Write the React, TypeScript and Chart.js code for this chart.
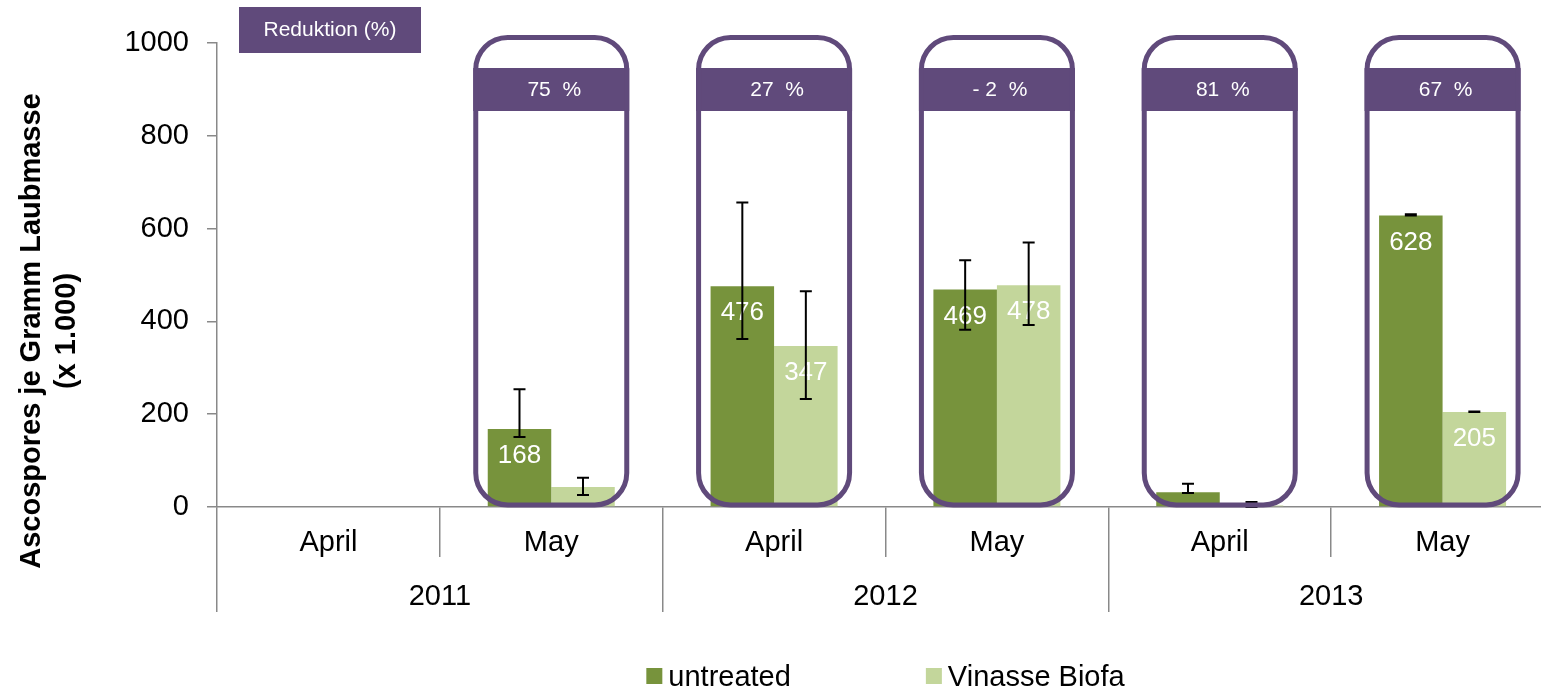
import { useEffect, useRef } from 'react';
import { Chart, registerables } from 'chart.js';

Chart.register(...registerables);

const months = ['April', 'May', 'April', 'May', 'April', 'May'];
const years = ['2011', '2012', '2013'];
const untreated = [null, 168, 476, 469, 32, 628];
const vinasse = [null, 43, 347, 478, 3, 205];
const untreatedHigh = [null, 254, 656, 532, 50, 631];
const untreatedLow = [null, 151, 362, 382, 30, 628];
const vinasseHigh = [null, 63, 465, 570, 11, 206];
const vinasseLow = [null, 26, 233, 392, 0, 205];
const reductions = [null, '75  %', '27  %', '- 2  %', '81  %', '67  %'];
const yTicks = [0, 200, 400, 600, 800, 1000];
const seriesNames = ['untreated', 'Vinasse Biofa'];
const yTitle = ['Ascospores je Gramm Laubmasse', '(x 1.000)'];

const GREEN = '#77933C';
const LIGHT = '#C3D69B';
const PURPLE = '#604A7B';
const GRAY = '#898989';
const FONT = '"Liberation Sans", Arial, sans-serif';

function roundRectPath(ctx: CanvasRenderingContext2D, l: number, t: number, r: number, b: number, rad: number) {
  ctx.beginPath();
  ctx.moveTo(l + rad, t);
  ctx.lineTo(r - rad, t);
  ctx.arcTo(r, t, r, t + rad, rad);
  ctx.lineTo(r, b - rad);
  ctx.arcTo(r, b, r - rad, b, rad);
  ctx.lineTo(l + rad, b);
  ctx.arcTo(l, b, l, b - rad, rad);
  ctx.lineTo(l, t + rad);
  ctx.arcTo(l, t, l + rad, t, rad);
  ctx.closePath();
}

const overlay = {
  id: 'overlay',
  afterDatasetsDraw(chart: any) {
    const { ctx, chartArea, scales } = chart;
    const x = scales.x;
    const y = scales.y;
    const values = [untreated, vinasse];
    // data labels
    ctx.save();
    ctx.fillStyle = '#ffffff';
    ctx.font = `26px ${FONT}`;
    ctx.textAlign = 'center';
    ctx.textBaseline = 'middle';
    values.forEach((vals, di) => {
      const meta = chart.getDatasetMeta(di);
      vals.forEach((v, i) => {
        if (v == null || v < 100) return;
        const bar = meta.data[i];
        ctx.fillText(String(v), bar.x, y.getPixelForValue(v) + 27);
      });
    });
    ctx.restore();
    // error bars
    const errs = [[untreatedHigh, untreatedLow], [vinasseHigh, vinasseLow]];
    ctx.save();
    ctx.strokeStyle = '#000';
    ctx.lineWidth = 2;
    errs.forEach(([hi, lo], di) => {
      const meta = chart.getDatasetMeta(di);
      hi.forEach((h, i) => {
        if (h == null || lo[i] == null) return;
        const cx = meta.data[i].x;
        const yh = y.getPixelForValue(h);
        const yl = y.getPixelForValue(lo[i] as number);
        ctx.beginPath();
        ctx.moveTo(cx, yh);
        ctx.lineTo(cx, yl);
        ctx.moveTo(cx - 6, yh);
        ctx.lineTo(cx + 6, yh);
        ctx.moveTo(cx - 6, yl);
        ctx.lineTo(cx + 6, yl);
        ctx.stroke();
      });
    });
    ctx.restore();
    // reduction boxes
    ctx.save();
    reductions.forEach((label, i) => {
      if (label == null) return;
      const cx = x.getPixelForValue(i);
      const l = cx - 75.5;
      const r = cx + 75.5;
      const t = chartArea.top - 5.5;
      const b = y.getPixelForValue(0) - 2;
      ctx.fillStyle = PURPLE;
      ctx.fillRect(l - 2.5, chartArea.top + 25, r - l + 5, 43);
      ctx.strokeStyle = PURPLE;
      ctx.lineWidth = 5;
      roundRectPath(ctx, l, t, r, b, 32);
      ctx.stroke();
      ctx.fillStyle = '#ffffff';
      ctx.font = `21px ${FONT}`;
      ctx.textAlign = 'center';
      ctx.textBaseline = 'middle';
      ctx.fillText(label, cx + 3, chartArea.top + 47);
    });
    ctx.restore();
  },
  afterDraw(chart: any) {
    const { ctx, chartArea } = chart;
    ctx.save();
    // Reduktion box
    ctx.fillStyle = PURPLE;
    ctx.fillRect(chartArea.left + 22, 7, 182, 46);
    ctx.fillStyle = '#ffffff';
    ctx.font = `21px ${FONT}`;
    ctx.textAlign = 'center';
    ctx.textBaseline = 'middle';
    ctx.fillText('Reduktion (%)', chartArea.left + 113, 30);
    // Y title
    ctx.save();
    ctx.translate(32, 331);
    ctx.rotate(-Math.PI / 2);
    ctx.fillStyle = '#000';
    ctx.font = `bold 29px ${FONT}`;
    ctx.textAlign = 'center';
    ctx.textBaseline = 'middle';
    yTitle.forEach((line, k) => ctx.fillText(line, 0, k * 35));
    ctx.restore();
    // legend
    ctx.font = `29px ${FONT}`;
    ctx.textAlign = 'left';
    ctx.textBaseline = 'alphabetic';
    const colors = [GREEN, LIGHT];
    const widths = seriesNames.map((n) => 22 + ctx.measureText(n).width);
    const gap = 135;
    const total = widths[0] + gap + widths[1];
    let sx = (chartArea.left + chartArea.right) / 2 - total / 2;
    seriesNames.forEach((n, k) => {
      ctx.fillStyle = colors[k];
      ctx.fillRect(sx, 668, 16, 16);
      ctx.fillStyle = '#000';
      ctx.fillText(n, sx + 22, 686);
      sx += widths[k] + gap;
    });
    ctx.restore();
  },
};

export default function App() {
  const ref = useRef<HTMLCanvasElement>(null);
  useEffect(() => {
    if (!ref.current) return;
    Chart.defaults.font.family = FONT;
    const chart = new Chart(ref.current, {
      type: 'bar',
      data: {
        labels: months,
        datasets: [
          { label: seriesNames[0], data: untreated as any, backgroundColor: GREEN, borderWidth: 0, categoryPercentage: 0.57, barPercentage: 1, xAxisID: 'x' },
          { label: seriesNames[1], data: vinasse as any, backgroundColor: LIGHT, borderWidth: 0, categoryPercentage: 0.57, barPercentage: 1, xAxisID: 'x' },
        ],
      },
      options: {
        responsive: false,
        animation: false,
        layout: { padding: { top: 43, bottom: 79, left: 0, right: 6 } },
        plugins: { legend: { display: false }, tooltip: { enabled: false } },
        scales: {
          x: {
            type: 'category',
            labels: months,
            position: 'bottom',
            weight: 0,
            offset: true,
            grid: { display: true, drawOnChartArea: false, drawTicks: true, tickLength: 50, color: GRAY, lineWidth: 1.5, offset: true },
            border: { display: true, color: GRAY, width: 1.5 },
            ticks: { color: '#000', font: { size: 29 }, padding: -31, autoSkip: false, maxRotation: 0 },
            afterFit: (s: any) => { s.height = 50; },
          },
          x2: {
            type: 'category',
            labels: years,
            position: 'bottom',
            weight: 1,
            offset: true,
            grid: { display: true, drawOnChartArea: false, drawTicks: true, tickLength: 55, color: GRAY, lineWidth: 1.5, offset: true },
            border: { display: false },
            ticks: { color: '#000', font: { size: 29 }, padding: -32, autoSkip: false, maxRotation: 0 },
            afterFit: (s: any) => { s.height = 55; },
          },
          y: {
            min: yTicks[0],
            max: yTicks[yTicks.length - 1],
            ticks: { stepSize: yTicks[1] - yTicks[0], color: '#000', font: { size: 29 }, padding: 18, callback: (v: any) => String(v) },
            grid: { drawOnChartArea: false, drawTicks: true, tickLength: 10, color: GRAY, lineWidth: 1.5 },
            border: { display: true, color: GRAY, width: 1.5 },
            afterFit: (s: any) => { s.width = 217; },
          },
        } as any,
      },
      plugins: [overlay],
    });
    return () => chart.destroy();
  }, []);
  return (
    <div style={{ position: 'fixed', left: 0, top: 0, width: 1541, height: 691, overflow: 'hidden', background: '#fff' }}>
      <canvas ref={ref} width={1560} height={691} style={{ display: 'block' }} />
    </div>
  );
}
